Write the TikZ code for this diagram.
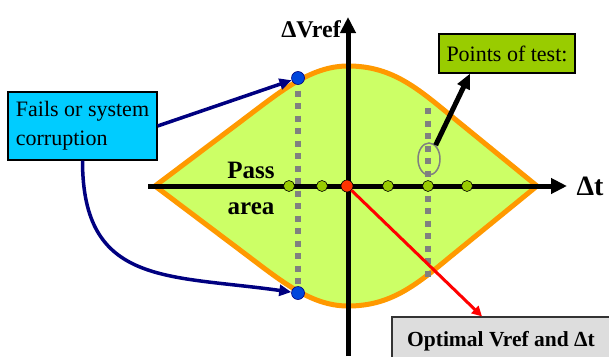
\documentclass[tikz,border=0pt]{standalone}
\usepackage{fontspec}
\setmainfont{Liberation Serif}
\usetikzlibrary{arrows.meta,shapes.geometric}
\definecolor{lensfill}{RGB}{204,255,102}
\definecolor{lensedge}{RGB}{255,153,0}
\definecolor{failcyan}{RGB}{0,204,255}
\definecolor{testgreen}{RGB}{153,204,0}
\definecolor{optgray}{RGB}{221,221,221}
\definecolor{darknavy}{RGB}{0,0,128}
\definecolor{dotblue}{RGB}{0,70,220}
\definecolor{bestred}{RGB}{255,51,0}
\definecolor{testgray}{RGB}{128,128,128}

\begin{document}
\begin{tikzpicture}[x=1pt, y=-1pt,
        box/.style={rectangle, draw=black, line width=1.2pt,
                    inner xsep=6pt, inner ysep=0pt,
                    font=\fontsize{22}{29}\selectfont},
        dot/.style={circle, draw=black, line width=0.6pt, inner sep=0pt,
                    minimum size=11pt, fill=testgreen},
        axis/.style={line width=5pt, -{Triangle[length=16pt,width=15pt]}},
        arrow/.style={line width=3.5pt, draw=darknavy,
                      -{Triangle[length=12pt,width=11pt]}},
        testline/.style={draw=testgray, line width=5.5pt,
                         dash pattern=on 6pt off 6.5pt},
        lbl/.style={font=\bfseries\fontsize{24}{30}\selectfont}]

        \useasboundingbox (0,0) rectangle (609,356);

        % Pass area
        \filldraw[fill=lensfill, draw=lensedge, line width=5pt]
            (155,186) -- (240,122) .. controls (280,92) and (310,66) .. (348,66)
            .. controls (390,66) and (415,86) .. (450,115) -- (537,186)
            -- (450,257) .. controls (415,286) and (390,306) .. (348,306)
            .. controls (310,306) and (280,280) .. (240,250) -- cycle;

        % Limit points (fail)
        \coordinate (ftopc) at (298,78);
        \coordinate (fbotc) at (298,293);
        \draw[testline] (ftopc) -- (fbotc);

        % Selected test point line
        \coordinate (stop) at (428,108);
        \coordinate (sbot) at (428,277);
        \draw[testline] (stop) -- (sbot);

        % Axes
        \coordinate (xs) at (148,186);
        \coordinate (xe) at (567,186);
        \coordinate (ys) at (348,356);
        \coordinate (ye) at (348,17);
        \draw[axis] (xs) -- (xe);
        \draw[axis] (ys) -- (ye);
        \node[lbl] (vlbl) at (311,29) {ΔVref};
        \node[lbl, font=\bfseries\fontsize{28}{34}\selectfont] (tlbl) at (590,186) {Δt};

        % Pass area text
        \node[lbl, font=\bfseries\fontsize{25}{36}\selectfont, align=center]
            (pass) at (251,188) {Pass\\area};

        % Selection ellipse
        \node[ellipse, draw=testgray, line width=1.5pt, inner sep=0pt,
              minimum width=22pt, minimum height=32pt] (sel) at (429,159) {};

        % Test points on the axis
        \node[dot] (pt1) at (289,186) {};
        \node[dot] (pt2) at (322,186) {};
        \node[dot] (pt3) at (388,186) {};
        \node[dot] (pt4) at (428,186) {};
        \node[dot] (pt5) at (467,186) {};
        \node[dot, fill=bestred, minimum size=12pt] (best) at (347,186) {};

        % Fail points
        \node[dot, fill=dotblue, draw=darknavy, minimum size=13pt] (ftop) at (ftopc) {};
        \node[dot, fill=dotblue, draw=darknavy, minimum size=13pt] (fbot) at (fbotc) {};

        % Boxes
        \node[box, fill=failcyan, minimum width=149pt, minimum height=68pt,
              align=left] (fails) at (82.5,126)
            {Fails or system\\corruption};
        \node[box, fill=testgreen, minimum width=136pt, minimum height=39pt]
            (points) at (507,53.5) {Points of test:};
        \node[box, fill=optgray, draw=black!80, minimum width=218pt,
              minimum height=48pt, font=\bfseries\fontsize{21.5}{25}\selectfont]
            (optimal) at (501,341) {Optimal Vref and Δt};

        % Arrows from fail box
        \draw[arrow] (fails.east) -- (ftop);
        \draw[arrow] (fails.south) to[out=-90, in=172, looseness=1.3] (fbot);

        % Arrow to points box
        \draw[line width=5pt, -{Triangle[length=15pt,width=13pt]}]
            (sel) -- ([xshift=-37pt]points.south);

        % Arrow to optimal box
        \draw[line width=3pt, draw=red, -{Triangle[length=10pt,width=10pt]}]
            (best) -- ([xshift=-19pt]optimal.north);

    \end{tikzpicture}
\end{document}
